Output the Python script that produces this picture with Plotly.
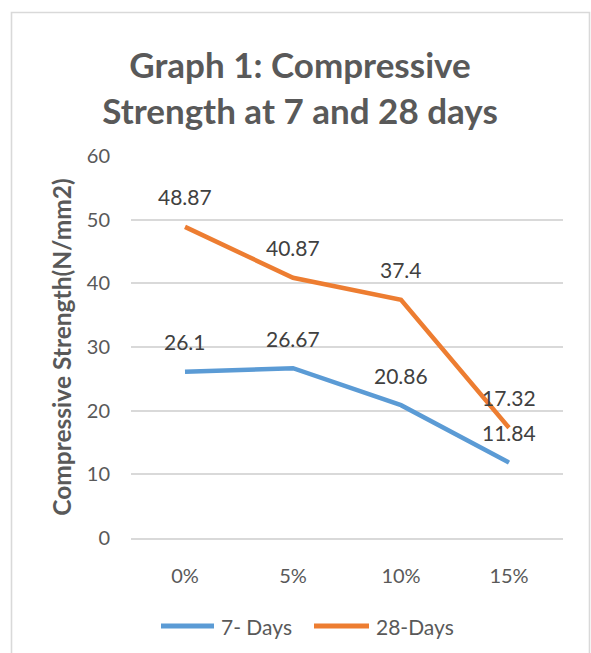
import plotly.graph_objects as go

categories = ["0%", "5%", "10%", "15%"]
days7 = [26.1, 26.67, 20.86, 11.84]
days28 = [48.87, 40.87, 37.4, 17.32]
series_names = ["7- Days", "28-Days"]
y_ticks = [0, 10, 20, 30, 40, 50, 60]

BLUE = "#5B9BD5"
ORANGE = "#ED7D31"
TXT = "#595959"
LBL = "#404040"
GRID = "#D9D9D9"
FONT = "Lato"

L, R, T, B = 131, 28, 156, 115
W, H = 591, 653
pw, ph = W - L - R, H - T - B


def px_x(x):
    return (x - L) / pw


def px_y(y):
    return (H - B - y) / ph


fig = go.Figure()
for name, vals, col in [(series_names[0], days7, BLUE), (series_names[1], days28, ORANGE)]:
    fig.add_trace(go.Scatter(
        x=categories, y=vals, name=name, mode="lines",
        line=dict(color=col, width=4.5),
        hoverinfo="skip", showlegend=False,
    ))

annotations = []
for vals in (days7, days28):
    for c, v in zip(categories, vals):
        annotations.append(dict(
            x=c, y=v, xref="x", yref="y", text=str(v), showarrow=False,
            yshift=30, font=dict(family=FONT, size=21, color=LBL),
            xanchor="center", yanchor="middle",
        ))

shapes = [dict(
    type="rect", xref="paper", yref="paper",
    x0=px_x(11.5), x1=px_x(589.5), y0=px_y(700), y1=px_y(12.5),
    line=dict(color=GRID, width=1.6), fillcolor="rgba(0,0,0,0)", layer="below",
)]

# legend (drawn to match the original's long legend keys)
legend_items = [(series_names[0], BLUE, 161, 214, 219), (series_names[1], ORANGE, 314, 369, 374)]
ly = 626
for name, col, x0, x1, tx in legend_items:
    shapes.append(dict(
        type="line", xref="paper", yref="paper",
        x0=px_x(x0), x1=px_x(x1), y0=px_y(ly), y1=px_y(ly),
        line=dict(color=col, width=5),
    ))
    annotations.append(dict(
        x=px_x(tx), y=px_y(ly), xref="paper", yref="paper", text=name,
        showarrow=False, xanchor="left", yanchor="middle",
        font=dict(family=FONT, size=21, color=TXT),
    ))

fig.update_layout(
    width=W, height=H,
    margin=dict(l=L, r=R, t=T, b=B),
    paper_bgcolor="white", plot_bgcolor="white",
    font=dict(family=FONT, color=TXT),
    title=dict(
        text="Graph 1: Compressive<br>Strength at 7 and 28 days",
        font=dict(family=FONT, size=35, color=TXT, weight="bold"),
        x=300 / W, xanchor="center", xref="container",
        y=1 - 78 / H, yanchor="middle", yref="container",
    ),
    xaxis=dict(
        type="category", range=[-0.5, 3.5], showgrid=False, zeroline=False,
        showline=True, linecolor=GRID, linewidth=1.6,
        ticks="", ticklabelstandoff=19,
        tickfont=dict(family=FONT, size=20, color=TXT),
        fixedrange=True,
    ),
    yaxis=dict(
        range=[0, 60], tickvals=y_ticks, showgrid=True, gridcolor=GRID, gridwidth=1.6,
        zeroline=False, showline=False, ticks="", ticklabelstandoff=20,
        tickfont=dict(family=FONT, size=20, color=TXT),
        title=dict(text="Compressive Strength(N/mm2)", standoff=8,
                   font=dict(family=FONT, size=24.5, color=TXT, weight="bold")),
        fixedrange=True,
    ),
    annotations=annotations,
    shapes=shapes,
    showlegend=False,
)

fig.write_html("out.html", config={"displayModeBar": False},
               post_script="document.body.style.margin='0';")
